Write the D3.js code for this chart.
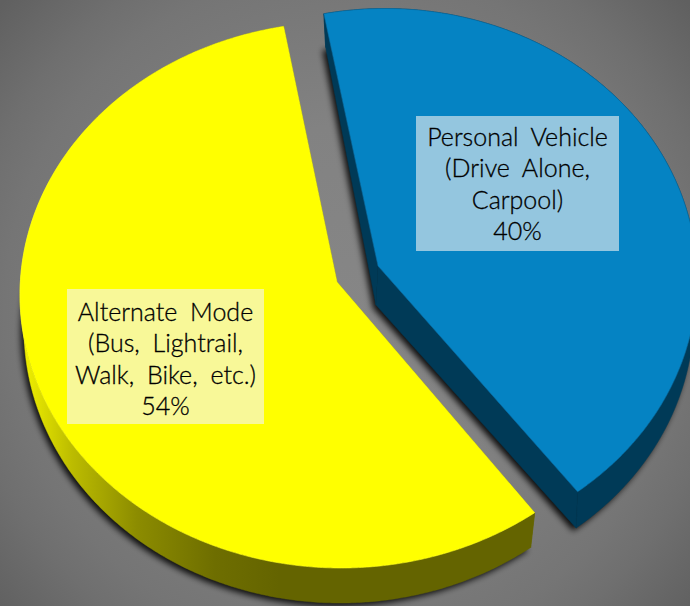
<!DOCTYPE html>
<html><head><meta charset="utf-8">
<style>html,body{margin:0;padding:0;background:#777}svg{display:block}</style>
<script src="https://cdn.jsdelivr.net/npm/d3@7/dist/d3.min.js"></script>
</head><body>
<script>
const categories = ["Personal Vehicle (Drive Alone, Carpool)", "Alternate Mode (Bus, Lightrail, Walk, Bike, etc.)"];
const values = [40, 54];
const labelLines = [
  ["Personal Vehicle", "(Drive Alone,", "Carpool)", "40%"],
  ["Alternate Mode", "(Bus, Lightrail,", "Walk, Bike, etc.)", "54%"]
];

const W = 690, H = 606, rad = Math.PI / 180;
const layout = [
  { nudge: 0,
    top: { cx: 385, cy: 279, rx: 312, ry: 270.5, ax: 378, ay: 266 },
    bot: { cx: 386, cy: 314, rx: 308, ry: 272, ax: 376, ay: 305 },
    fill: "#0583c3", side: "#003a57", edge: "#0a6da3",
    box: { x: 416, y: 116, w: 203, h: 135, fill: "#94c6df" }, cx: 517.5, base: 146 },
  { nudge: 1,
    top: { cx: 341, cy: 295, rx: 321, ry: 273, ax: 337, ay: 282 },
    bot: { cx: 340, cy: 329, rx: 316, ry: 274, ax: 336, ay: 318 },
    fill: "#ffff00", side: "url(#yellowSide)", edge: "#ffff20",
    box: { x: 67, y: 289, w: 197, h: 135, fill: "#f8f898" }, cx: 165.5, base: 321 }
];

const svg = d3.select("body").append("svg").attr("width", W).attr("height", H);
const defs = svg.append("defs");
const bg = defs.append("radialGradient").attr("id", "bg").attr("gradientUnits", "userSpaceOnUse")
  .attr("cx", 345).attr("cy", 310).attr("r", 460);
[[0, "#868686"], [0.4, "#828282"], [0.74, "#757575"], [0.83, "#6f6f6f"], [1, "#606060"]].forEach(([o, c]) =>
  bg.append("stop").attr("offset", o).attr("stop-color", c));
const ys = defs.append("linearGradient").attr("id", "yellowSide").attr("gradientUnits", "userSpaceOnUse")
  .attr("x1", 20).attr("x2", 280).attr("y1", 0).attr("y2", 0);
[[0, "#f4f400"], [0.2, "#bcbc00"], [0.45, "#8c8c00"], [0.75, "#6e6e00"], [1, "#646400"]].forEach(([o, c]) =>
  ys.append("stop").attr("offset", o).attr("stop-color", c));
const sh = defs.append("filter").attr("id", "shadow").attr("x", "-10%").attr("y", "-10%").attr("width", "120%").attr("height", "120%");
sh.append("feGaussianBlur").attr("stdDeviation", 3.2);

svg.append("rect").attr("width", W).attr("height", H).attr("fill", "url(#bg)");

const pie = d3.pie().sort(null).startAngle(-11.3 * rad).endAngle((360 - 11.3) * rad);
const arcs = pie(values);

function ellipsePts(e, a0, a1) {
  const sx = d3.scaleLinear([-1, 1], [e.cx - e.rx, e.cx + e.rx]);
  const sy = d3.scaleLinear([-1, 1], [e.cy - e.ry, e.cy + e.ry]);
  const n = Math.ceil(Math.abs(a1 - a0) / (0.5 * rad));
  return d3.range(n + 1).map(i => {
    const a = a0 + (a1 - a0) * i / n;
    return [sx(Math.sin(a)), sy(-Math.cos(a))];
  });
}
const line = d3.line();

arcs.forEach((d, i) => {
  const L = layout[i], a0 = d.startAngle + L.nudge * rad, a1 = d.endAngle + L.nudge * rad;
  const g = svg.append("g");
  const botArc = ellipsePts(L.bot, a0, a1), topArc = ellipsePts(L.top, a0, a1);
  const tA = [L.top.ax, L.top.ay], bA = [L.bot.ax, L.bot.ay];
  g.append("path").attr("d", line([bA, ...botArc]) + "Z")
    .attr("fill", "#000").attr("fill-opacity", 0.9)
    .attr("transform", "translate(-3,3)").attr("filter", "url(#shadow)");
  const faces = [
    [...botArc, ...topArc.slice().reverse()],
    [tA, bA, botArc[0], topArc[0]],
    [tA, bA, botArc[botArc.length - 1], topArc[topArc.length - 1]]
  ];
  g.selectAll("path.side").data(faces).join("path").attr("class", "side")
    .attr("d", f => line(f) + "Z").attr("fill", L.side).attr("stroke", L.side).attr("stroke-width", 0.5);
  g.append("path").attr("d", line([tA, ...topArc]) + "Z")
    .attr("fill", L.fill).attr("stroke", L.edge).attr("stroke-width", 0.6);
});

arcs.forEach((d, i) => {
  const L = layout[i], g = svg.append("g");
  g.append("rect").attr("x", L.box.x).attr("y", L.box.y).attr("width", L.box.w).attr("height", L.box.h).attr("fill", L.box.fill);
  g.selectAll("text").data(labelLines[i]).join("text")
    .attr("x", L.cx).attr("y", (t, k) => L.base + k * 31.3)
    .attr("text-anchor", "middle")
    .attr("font-family", "Lato, 'Open Sans', sans-serif")
    .attr("font-weight", 300)
    .attr("font-size", 25).attr("word-spacing", 6).attr("fill", "#000")
    .attr("stroke", "#000").attr("stroke-width", 0.3)
    .text(t => t);
});
</script>
</body></html>
